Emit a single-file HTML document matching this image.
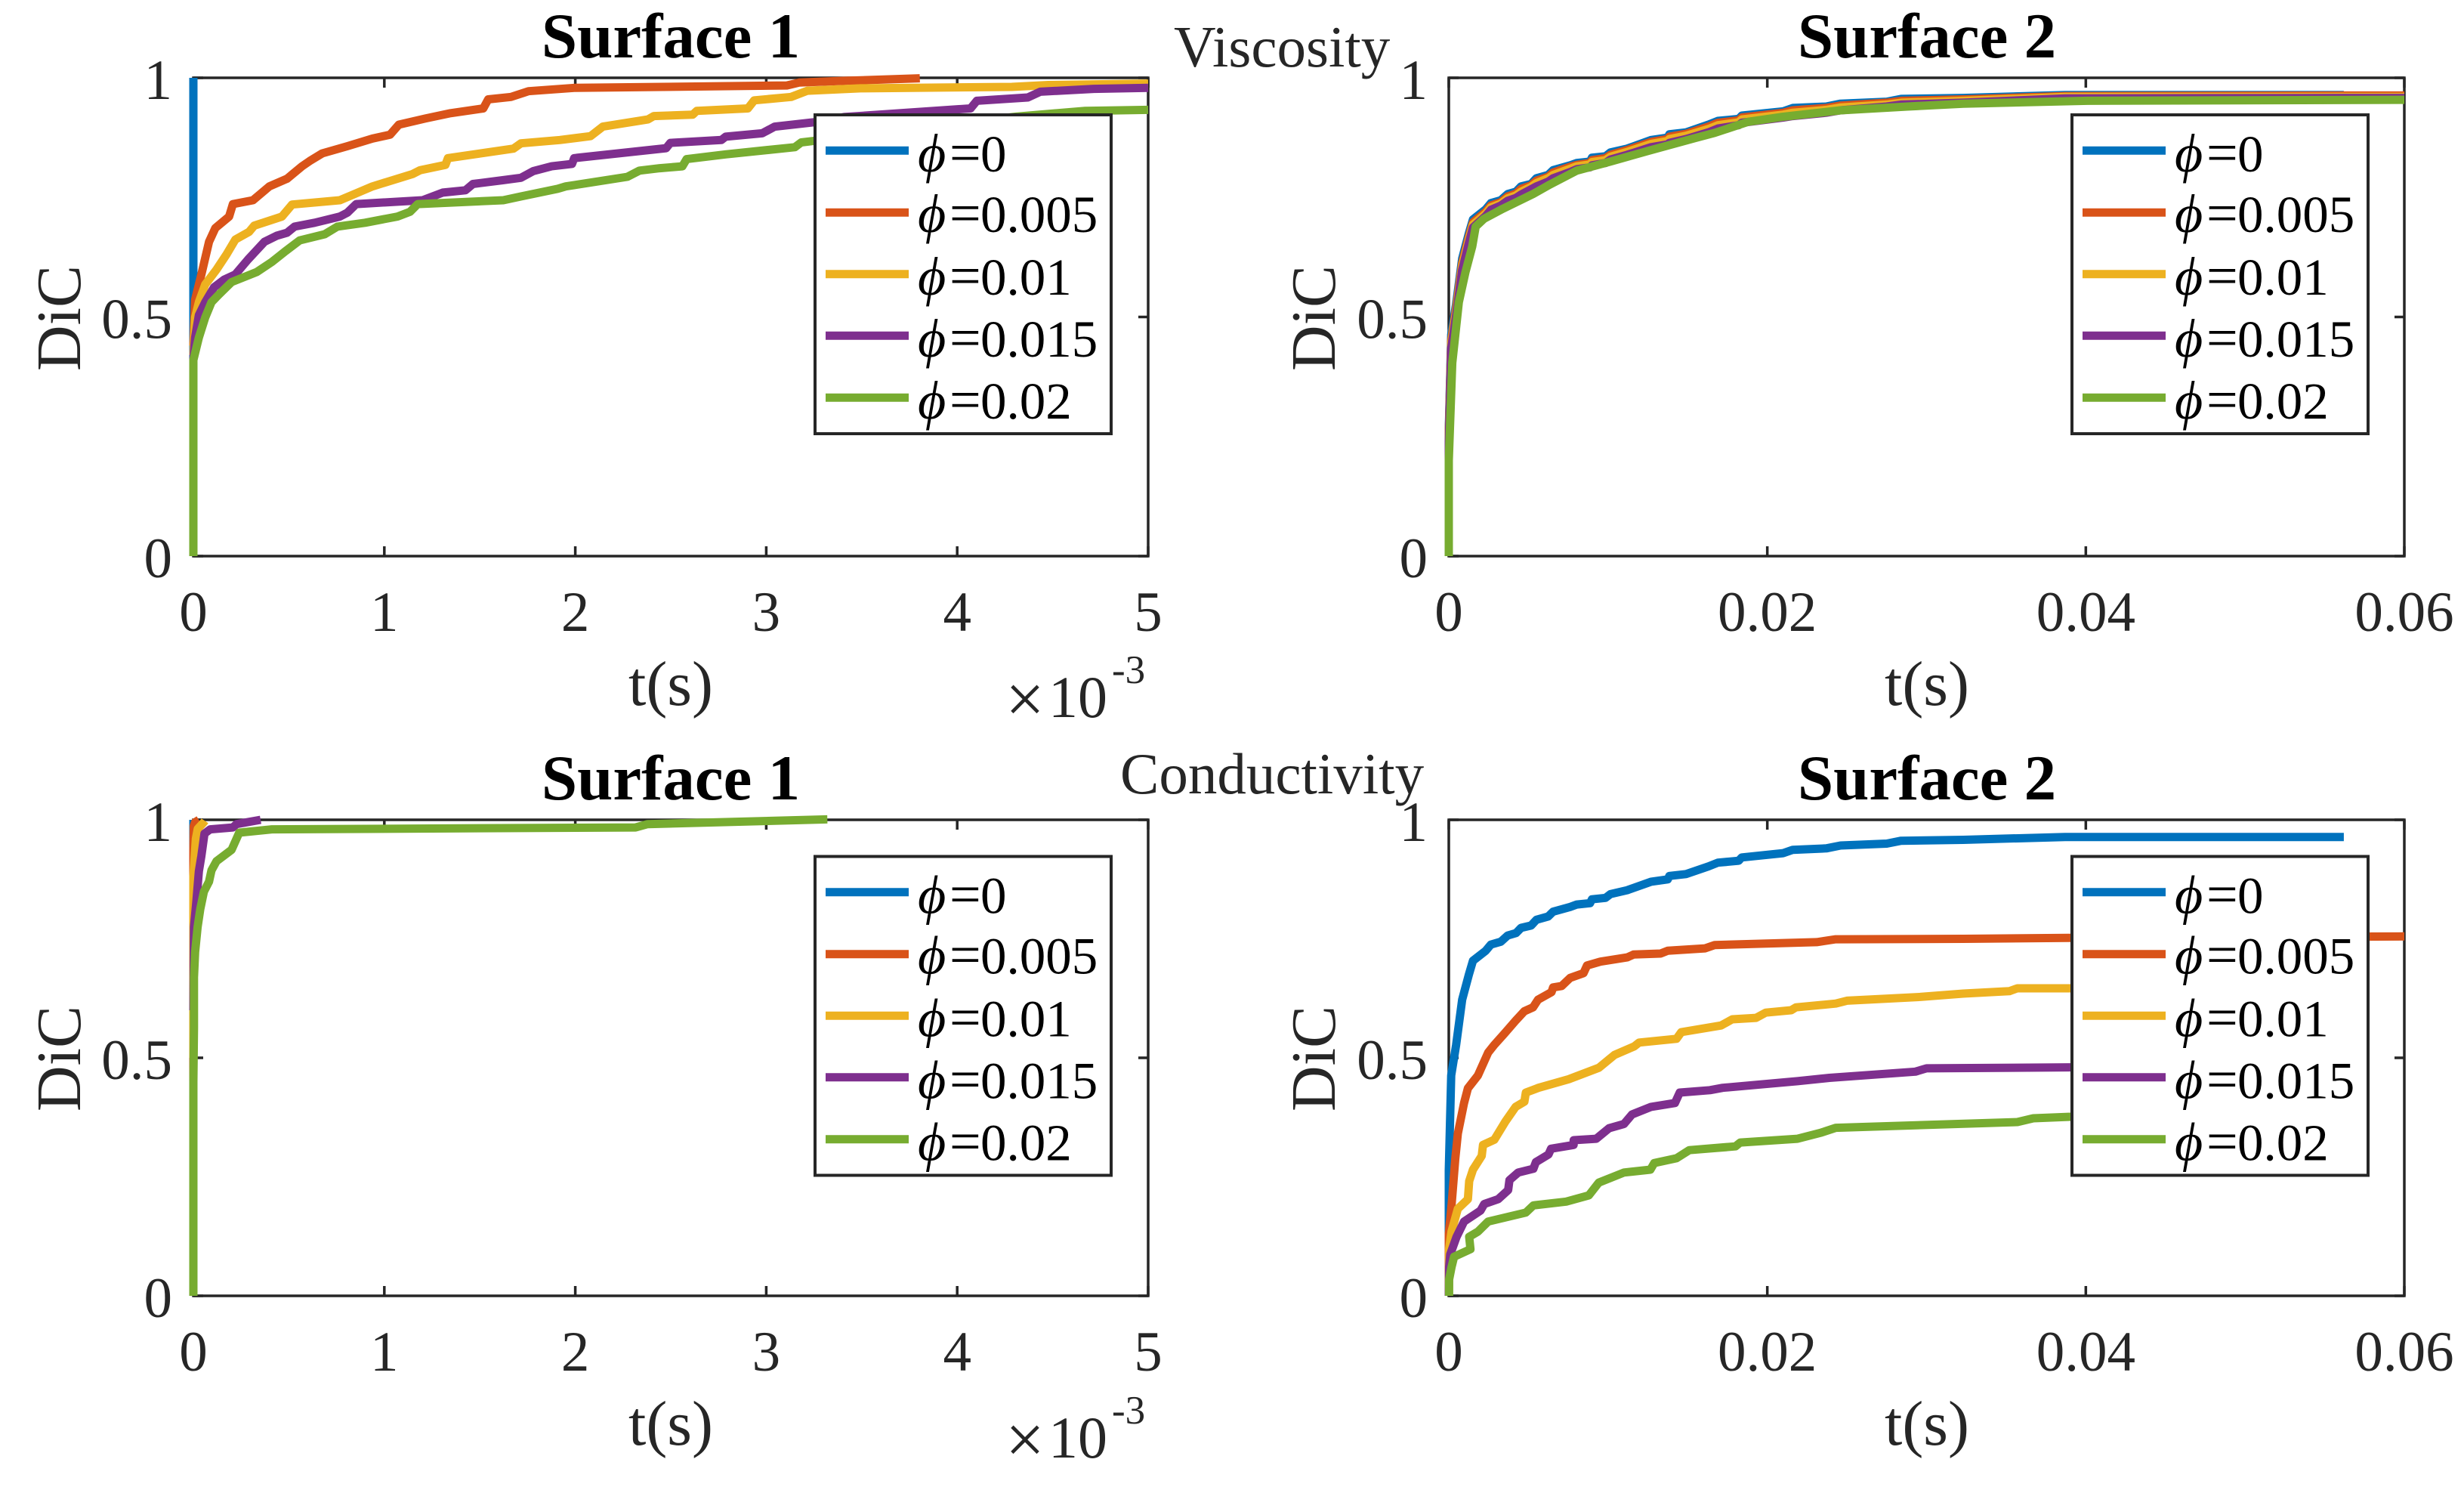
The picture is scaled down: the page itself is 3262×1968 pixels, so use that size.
<!DOCTYPE html>
<html lang="en">
<head>
<meta charset="utf-8">
<title>DiC versus time for Surface 1 and Surface 2</title>
<style>
html,body{margin:0;padding:0;background:#fff;}
svg{display:block;}
text{font-family:"Liberation Serif","DejaVu Serif",serif;}
.title{font-size:85px;font-weight:bold;fill:#000;text-anchor:middle;}
.axis-label{font-size:84px;fill:#262626;text-anchor:middle;}
.group-label{font-size:77px;fill:#262626;}
.tick-label{font-size:75px;fill:#262626;}
.legend-text{font-size:69px;fill:#000;}
.phi{font-style:italic;font-size:72px;}
.eq{font-size:74px;}
.times{font-size:92px;fill:#262626;}
.mult{font-size:78px;fill:#262626;}
.exp{font-size:53px;fill:#262626;}
</style>
</head>
<body>
<svg id="figure" xmlns="http://www.w3.org/2000/svg" width="3262" height="1968" viewBox="0 0 3262 1968">
  <rect x="0" y="0" width="3262" height="1968" fill="#ffffff"/>

  <text class="group-label" x="1554" y="88">Viscosity</text>
  <text class="group-label" x="1483" y="1050">Conductivity</text>

  <!-- Panel 1 -->
  <g id="panel1"></g>
  <text class="title" x="888" y="76">Surface 1</text>
  <text class="axis-label" x="888" y="933">t(s)</text>
  <text class="axis-label" transform="translate(106,421) rotate(-90)">DiC</text>
  <g>
    <text class="times" x="1331" y="956">×</text><text class="mult" x="1388" y="949">10</text><text class="exp" x="1472" y="904">-3</text>
  </g>
  <g transform="translate(0,0)">
    <rect x="1079" y="152" width="392" height="422" fill="#fff" stroke="#262626" stroke-width="4"/>
    <line x1="1093" x2="1203" y1="199.3" y2="199.3" stroke="#0072BD" stroke-width="11"/>
    <line x1="1093" x2="1203" y1="281.3" y2="281.3" stroke="#D95319" stroke-width="11"/>
    <line x1="1093" x2="1203" y1="362.7" y2="362.7" stroke="#EDB120" stroke-width="11"/>
    <line x1="1093" x2="1203" y1="444.3" y2="444.3" stroke="#7E2F8E" stroke-width="11"/>
    <line x1="1093" x2="1203" y1="526.3" y2="526.3" stroke="#77AC30" stroke-width="11"/>
    <text class="legend-text" y="227"><tspan class="phi" x="1215">ϕ</tspan><tspan class="eq" x="1257">=</tspan><tspan x="1298">0</tspan></text>
    <text class="legend-text" y="307"><tspan class="phi" x="1215">ϕ</tspan><tspan class="eq" x="1257">=</tspan><tspan x="1298">0.005</tspan></text>
    <text class="legend-text" y="390"><tspan class="phi" x="1215">ϕ</tspan><tspan class="eq" x="1257">=</tspan><tspan x="1298">0.01</tspan></text>
    <text class="legend-text" y="472"><tspan class="phi" x="1215">ϕ</tspan><tspan class="eq" x="1257">=</tspan><tspan x="1298">0.015</tspan></text>
    <text class="legend-text" y="554"><tspan class="phi" x="1215">ϕ</tspan><tspan class="eq" x="1257">=</tspan><tspan x="1298">0.02</tspan></text>
  </g>

  <!-- Panel 2 -->
  <g id="panel2"></g>
  <text class="title" x="2551" y="76">Surface 2</text>
  <text class="axis-label" x="2551" y="933">t(s)</text>
  <text class="axis-label" transform="translate(1767,421) rotate(-90)">DiC</text>
  <g transform="translate(1664,0)">
    <rect x="1079" y="152" width="392" height="422" fill="#fff" stroke="#262626" stroke-width="4"/>
    <line x1="1093" x2="1203" y1="199.3" y2="199.3" stroke="#0072BD" stroke-width="11"/>
    <line x1="1093" x2="1203" y1="281.3" y2="281.3" stroke="#D95319" stroke-width="11"/>
    <line x1="1093" x2="1203" y1="362.7" y2="362.7" stroke="#EDB120" stroke-width="11"/>
    <line x1="1093" x2="1203" y1="444.3" y2="444.3" stroke="#7E2F8E" stroke-width="11"/>
    <line x1="1093" x2="1203" y1="526.3" y2="526.3" stroke="#77AC30" stroke-width="11"/>
    <text class="legend-text" y="227"><tspan class="phi" x="1215">ϕ</tspan><tspan class="eq" x="1257">=</tspan><tspan x="1298">0</tspan></text>
    <text class="legend-text" y="307"><tspan class="phi" x="1215">ϕ</tspan><tspan class="eq" x="1257">=</tspan><tspan x="1298">0.005</tspan></text>
    <text class="legend-text" y="390"><tspan class="phi" x="1215">ϕ</tspan><tspan class="eq" x="1257">=</tspan><tspan x="1298">0.01</tspan></text>
    <text class="legend-text" y="472"><tspan class="phi" x="1215">ϕ</tspan><tspan class="eq" x="1257">=</tspan><tspan x="1298">0.015</tspan></text>
    <text class="legend-text" y="554"><tspan class="phi" x="1215">ϕ</tspan><tspan class="eq" x="1257">=</tspan><tspan x="1298">0.02</tspan></text>
  </g>

  <!-- Panel 3 -->
  <g id="panel3"></g>
  <text class="title" x="888" y="1058">Surface 1</text>
  <text class="axis-label" x="888" y="1912">t(s)</text>
  <text class="axis-label" transform="translate(106,1401) rotate(-90)">DiC</text>
  <g>
    <text class="times" x="1331" y="1936">×</text><text class="mult" x="1388" y="1929">10</text><text class="exp" x="1472" y="1884">-3</text>
  </g>
  <g transform="translate(0,981.5)">
    <rect x="1079" y="152" width="392" height="422" fill="#fff" stroke="#262626" stroke-width="4"/>
    <line x1="1093" x2="1203" y1="199.3" y2="199.3" stroke="#0072BD" stroke-width="11"/>
    <line x1="1093" x2="1203" y1="281.3" y2="281.3" stroke="#D95319" stroke-width="11"/>
    <line x1="1093" x2="1203" y1="362.7" y2="362.7" stroke="#EDB120" stroke-width="11"/>
    <line x1="1093" x2="1203" y1="444.3" y2="444.3" stroke="#7E2F8E" stroke-width="11"/>
    <line x1="1093" x2="1203" y1="526.3" y2="526.3" stroke="#77AC30" stroke-width="11"/>
    <text class="legend-text" y="227"><tspan class="phi" x="1215">ϕ</tspan><tspan class="eq" x="1257">=</tspan><tspan x="1298">0</tspan></text>
    <text class="legend-text" y="307"><tspan class="phi" x="1215">ϕ</tspan><tspan class="eq" x="1257">=</tspan><tspan x="1298">0.005</tspan></text>
    <text class="legend-text" y="390"><tspan class="phi" x="1215">ϕ</tspan><tspan class="eq" x="1257">=</tspan><tspan x="1298">0.01</tspan></text>
    <text class="legend-text" y="472"><tspan class="phi" x="1215">ϕ</tspan><tspan class="eq" x="1257">=</tspan><tspan x="1298">0.015</tspan></text>
    <text class="legend-text" y="554"><tspan class="phi" x="1215">ϕ</tspan><tspan class="eq" x="1257">=</tspan><tspan x="1298">0.02</tspan></text>
  </g>

  <!-- Panel 4 -->
  <g id="panel4"></g>
  <text class="title" x="2551" y="1058">Surface 2</text>
  <text class="axis-label" x="2551" y="1912">t(s)</text>
  <text class="axis-label" transform="translate(1767,1401) rotate(-90)">DiC</text>
  <g transform="translate(1664,981.5)">
    <rect x="1079" y="152" width="392" height="422" fill="#fff" stroke="#262626" stroke-width="4"/>
    <line x1="1093" x2="1203" y1="199.3" y2="199.3" stroke="#0072BD" stroke-width="11"/>
    <line x1="1093" x2="1203" y1="281.3" y2="281.3" stroke="#D95319" stroke-width="11"/>
    <line x1="1093" x2="1203" y1="362.7" y2="362.7" stroke="#EDB120" stroke-width="11"/>
    <line x1="1093" x2="1203" y1="444.3" y2="444.3" stroke="#7E2F8E" stroke-width="11"/>
    <line x1="1093" x2="1203" y1="526.3" y2="526.3" stroke="#77AC30" stroke-width="11"/>
    <text class="legend-text" y="227"><tspan class="phi" x="1215">ϕ</tspan><tspan class="eq" x="1257">=</tspan><tspan x="1298">0</tspan></text>
    <text class="legend-text" y="307"><tspan class="phi" x="1215">ϕ</tspan><tspan class="eq" x="1257">=</tspan><tspan x="1298">0.005</tspan></text>
    <text class="legend-text" y="390"><tspan class="phi" x="1215">ϕ</tspan><tspan class="eq" x="1257">=</tspan><tspan x="1298">0.01</tspan></text>
    <text class="legend-text" y="472"><tspan class="phi" x="1215">ϕ</tspan><tspan class="eq" x="1257">=</tspan><tspan x="1298">0.015</tspan></text>
    <text class="legend-text" y="554"><tspan class="phi" x="1215">ϕ</tspan><tspan class="eq" x="1257">=</tspan><tspan x="1298">0.02</tspan></text>
  </g>
</svg>

<script>
// Time values are in milliseconds, DiC is a fraction.
const seriesNames = ['phi-0','phi-0.005','phi-0.01','phi-0.015','phi-0.02'];
const seriesColors = ['#0072BD','#D95319','#EDB120','#7E2F8E','#77AC30'];

const yTicks = [0,0.5,1];
const yTickLabels = ['0','0.5','1'];
const xTicksShort = [0,1,2,3,4,5];
const xTickLabelsShort = ['0','1','2','3','4','5'];
const xTicksLong = [0,20,40,60];
const xTickLabelsLong = ['0','0.02','0.04','0.06'];

// Panel 1: viscosity, surface 1
const v1T0 = [0,0];
const v1D0 = [0,1];
const v1T1 = [0,0.009,0.042,0.082,0.115,0.187,0.207,0.312,0.398,0.49,0.569,0.609,0.675,0.806,0.938,1.03,1.076,1.215,1.347,1.518,1.544,1.663,1.755,1.994,3.108,3.172,3.43,3.804];
const v1D1 = [0.44,0.536,0.589,0.657,0.686,0.71,0.736,0.744,0.773,0.789,0.815,0.826,0.842,0.857,0.873,0.881,0.902,0.915,0.926,0.936,0.955,0.96,0.972,0.979,0.984,0.99,0.994,0.999];
const v1T2 = [0,0.009,0.029,0.062,0.121,0.174,0.22,0.292,0.319,0.464,0.517,0.767,0.938,1.149,1.188,1.32,1.333,1.676,1.715,1.919,2.08,2.144,2.38,2.411,2.615,2.636,2.904,2.937,3.13,3.215,3.494,4.286,4.478,5];
const v1D2 = [0.42,0.499,0.531,0.568,0.599,0.631,0.662,0.678,0.691,0.71,0.735,0.744,0.773,0.799,0.807,0.818,0.832,0.852,0.863,0.87,0.878,0.898,0.913,0.92,0.923,0.931,0.936,0.953,0.96,0.973,0.978,0.981,0.985,0.988];
const v1T3 = [0,0.009,0.029,0.062,0.108,0.161,0.22,0.286,0.372,0.437,0.49,0.53,0.635,0.767,0.806,0.853,1.2,1.306,1.425,1.464,1.62,1.715,1.78,1.876,1.983,1.994,2.476,2.498,2.765,2.787,2.979,3.044,3.247,3.407,4.07,4.103,4.37,4.435,4.715,5];
const v1D3 = [0.41,0.457,0.504,0.531,0.562,0.578,0.589,0.62,0.657,0.67,0.676,0.689,0.697,0.71,0.718,0.736,0.744,0.76,0.765,0.778,0.786,0.791,0.805,0.815,0.82,0.832,0.853,0.864,0.87,0.877,0.884,0.898,0.907,0.918,0.936,0.952,0.959,0.971,0.977,0.979];
const v1T4 = [0,0,0.029,0.062,0.095,0.134,0.2,0.332,0.411,0.477,0.556,0.688,0.754,0.899,1.069,1.135,1.175,1.623,1.715,1.908,1.95,2.273,2.336,2.443,2.561,2.583,2.787,3.15,3.183,3.247,3.6,4,4.31,4.67,5];
const v1D4 = [0,0.41,0.457,0.499,0.531,0.547,0.573,0.594,0.615,0.636,0.66,0.673,0.689,0.697,0.71,0.72,0.736,0.744,0.752,0.768,0.773,0.793,0.806,0.811,0.815,0.83,0.84,0.855,0.865,0.868,0.885,0.905,0.919,0.931,0.933];

// Panel 2: viscosity, surface 2
const v2T0 = [0,0,0.15,0.46,0.84,1.26,1.52,2.32,2.64,3.27,3.7,4.22,4.54,5.17,5.5,6.24,6.55,7.62,8.04,8.87,8.99,9.84,10.15,11.2,12.7,13.75,13.85,14.9,16.3,16.9,18.2,18.4,21,21.6,23.7,24.6,27.5,28.4,32.3,38.7,56.2];
const v2D0 = [0,0.263,0.463,0.527,0.622,0.675,0.704,0.725,0.738,0.744,0.757,0.762,0.773,0.778,0.79,0.797,0.807,0.817,0.822,0.825,0.833,0.836,0.844,0.852,0.87,0.875,0.882,0.886,0.902,0.91,0.914,0.921,0.93,0.937,0.94,0.946,0.95,0.956,0.958,0.964,0.964];
const v2T1 = [0,0,0.15,0.46,0.84,1.26,1.52,2.32,2.64,3.27,3.7,4.22,4.54,5.17,5.5,6.24,6.55,7.62,8.04,8.87,8.99,9.84,10.15,11.2,12.7,13.75,13.85,14.9,16.3,16.9,18.2,18.4,21,21.6,23.7,24.6,27.5,28.4,32.3,38.7,56.2,60];
const v2D1 = [0,0.255,0.452,0.518,0.613,0.668,0.698,0.72,0.733,0.74,0.752,0.758,0.768,0.775,0.785,0.793,0.802,0.814,0.818,0.822,0.828,0.832,0.839,0.849,0.866,0.872,0.877,0.883,0.898,0.906,0.911,0.917,0.927,0.932,0.937,0.942,0.948,0.952,0.955,0.962,0.963,0.963];
const v2T2 = [0,0,0.15,0.46,0.84,1.26,1.52,2.32,2.64,3.27,3.7,4.22,4.54,5.17,5.5,6.24,6.55,7.62,8.04,8.87,8.99,9.84,10.15,11.2,12.7,13.75,13.85,14.9,16.3,16.9,18.2,18.4,21,21.6,23.7,24.6,27.5,28.4,32.3,38.7,56.2,60];
const v2D2 = [0,0.25,0.445,0.511,0.606,0.662,0.693,0.716,0.729,0.737,0.748,0.754,0.762,0.772,0.78,0.79,0.797,0.81,0.815,0.819,0.824,0.828,0.835,0.845,0.862,0.868,0.872,0.879,0.893,0.901,0.907,0.913,0.923,0.927,0.933,0.938,0.944,0.948,0.952,0.96,0.96,0.96];
const v2T3 = [0,0,0.15,0.46,0.84,1.26,1.52,2.32,2.64,3.27,3.7,4.22,4.54,5.17,5.5,6.24,6.55,7.62,8.04,8.87,8.99,9.84,10.15,11.2,12.7,13.75,13.85,14.9,16.3,16.9,18.2,18.4,21,21.6,23.7,24.6,27.5,28.4,32.3,38.7,56.2,60];
const v2D3 = [0,0.24,0.435,0.503,0.598,0.655,0.687,0.711,0.724,0.733,0.743,0.749,0.756,0.767,0.773,0.783,0.79,0.803,0.809,0.813,0.817,0.822,0.829,0.839,0.855,0.861,0.864,0.872,0.886,0.894,0.901,0.906,0.917,0.92,0.927,0.932,0.94,0.944,0.948,0.957,0.958,0.958];
const v2T4 = [0,0,0.22,0.63,1.05,1.47,1.69,2.2,3.38,5.29,6.35,8.04,10.15,12.5,15.45,16.7,18.8,20.85,24.6,28.8,32.3,40.1,60];
const v2D4 = [0,0.2,0.404,0.531,0.594,0.647,0.689,0.705,0.726,0.757,0.777,0.806,0.825,0.847,0.874,0.885,0.908,0.918,0.932,0.94,0.946,0.952,0.954];

// Panel 3: conductivity, surface 1
const c1T0 = [0,0];
const c1D0 = [0,1];
const c1T1 = [0,0,0.002,0.009,0.029];
const c1D1 = [0.4,0.934,0.987,0.995,1];
const c1T2 = [0,0,0.013,0.023,0.055,0.06];
const c1D2 = [0.5,0.881,0.96,0.981,0.995,0.998];
const c1T3 = [0,0.003,0.016,0.029,0.042,0.058,0.088,0.207,0.226,0.352];
const c1D3 = [0.6,0.775,0.829,0.892,0.924,0.971,0.98,0.984,0.991,1];
const c1T4 = [0,0,0.003,0.003,0.009,0.022,0.036,0.055,0.082,0.095,0.121,0.2,0.24,0.411,2.316,2.378,3.32];
const c1D4 = [0,0.45,0.563,0.669,0.722,0.775,0.812,0.849,0.87,0.894,0.913,0.937,0.973,0.98,0.984,0.991,1.001];

// Panel 4: conductivity, surface 2
const c2T0 = [0,0,0.15,0.46,0.84,1.26,1.52,2.32,2.64,3.27,3.7,4.22,4.54,5.17,5.5,6.24,6.55,7.62,8.04,8.87,8.99,9.84,10.15,11.2,12.7,13.75,13.85,14.9,16.3,16.9,18.2,18.4,21,21.6,23.7,24.6,27.5,28.4,32.3,38.7,56.2];
const c2D0 = [0,0.263,0.463,0.527,0.622,0.675,0.704,0.725,0.738,0.744,0.757,0.762,0.773,0.778,0.79,0.797,0.807,0.817,0.822,0.825,0.833,0.836,0.844,0.852,0.87,0.875,0.882,0.886,0.902,0.91,0.914,0.921,0.93,0.937,0.94,0.946,0.95,0.956,0.958,0.964,0.964];
const c2T1 = [0,0,0.18,0.41,0.57,0.96,1.2,1.83,2.47,2.85,3.49,4.22,4.75,5.29,5.6,6.45,6.55,7.09,7.62,8.46,8.68,9.52,11.2,11.6,13.3,13.75,16.1,16.7,23.1,24.3,32.3,38.9,60];
const c2D1 = [0,0.13,0.193,0.288,0.341,0.405,0.436,0.463,0.511,0.527,0.551,0.579,0.598,0.606,0.622,0.638,0.648,0.651,0.668,0.678,0.694,0.702,0.711,0.717,0.719,0.725,0.73,0.737,0.743,0.749,0.75,0.752,0.755];
const c2T2 = [0,0.02,0.17,0.57,1.2,1.28,1.52,2.07,2.15,2.86,3.57,4.2,4.75,4.84,5.63,7.53,9.42,10.4,11.64,11.95,14.3,14.6,17.1,17.8,19.3,19.9,21.5,21.8,24.3,25,29.6,32.3,35.2,35.7,38.9,44];
const c2D2 = [0,0.098,0.135,0.183,0.203,0.241,0.265,0.294,0.317,0.328,0.367,0.397,0.408,0.427,0.437,0.455,0.479,0.506,0.524,0.532,0.54,0.554,0.568,0.581,0.584,0.595,0.6,0.606,0.614,0.62,0.628,0.635,0.64,0.646,0.646,0.648];
const c2T3 = [0,0.02,0.09,0.49,0.96,1.99,2.23,3.1,3.73,3.81,4.36,5.31,5.47,6.26,6.42,7.84,7.84,9.26,10.06,11,11.5,12.7,14.2,14.5,16.4,17.2,21.9,23.9,29.3,30,38.9,44];
const c2D3 = [0,0.06,0.087,0.124,0.156,0.179,0.193,0.203,0.222,0.243,0.259,0.267,0.281,0.297,0.309,0.317,0.327,0.33,0.352,0.361,0.381,0.397,0.405,0.427,0.432,0.437,0.451,0.458,0.471,0.478,0.48,0.482];
const c2T4 = [0.02,0.02,0.17,0.33,1.36,1.28,1.83,2.47,4.84,5.31,7.37,8.79,9.42,11,12.66,12.9,14.3,15.1,18,18.3,21.9,23.4,24.3,35.7,36.7,38.9,44];
const c2D4 = [0,0.034,0.06,0.082,0.098,0.124,0.135,0.156,0.175,0.19,0.198,0.211,0.238,0.259,0.265,0.279,0.289,0.306,0.314,0.322,0.33,0.343,0.353,0.365,0.373,0.376,0.38];

const SVG_NS = 'http://www.w3.org/2000/svg';

function drawPanel(hostId, box, xMax, xTicks, xLabels, times, values) {
  const host = document.getElementById(hostId);
  const xScale = function (v) { return box.left + (v / xMax) * (box.right - box.left); };
  const yScale = function (v) { return box.bottom - v * (box.bottom - box.top); };

  const frame = document.createElementNS(SVG_NS, 'rect');
  
  
  frame.setAttribute('x', box.left);
  frame.setAttribute('y', box.top);
  frame.setAttribute('width', box.right - box.left);
  frame.setAttribute('height', box.bottom - box.top);
  frame.setAttribute('fill', 'none');
  frame.setAttribute('stroke', '#262626');
  frame.setAttribute('stroke-width', '3.5');
  host.appendChild(frame);

  xTicks.forEach(function (t, i) {
    const px = xScale(t);
    [[box.bottom, box.bottom - 13], [box.top, box.top + 13]].forEach(function (ends) {
      const tick = document.createElementNS(SVG_NS, 'line');
      
      
      tick.setAttribute('x1', px);
      tick.setAttribute('x2', px);
      tick.setAttribute('y1', ends[0]);
      tick.setAttribute('y2', ends[1]);
      tick.setAttribute('stroke', '#262626');
      tick.setAttribute('stroke-width', '3.5');
      host.appendChild(tick);
    });
    const label = document.createElementNS(SVG_NS, 'text');
    
    
    label.setAttribute('class', 'tick-label');
    label.setAttribute('x', px);
    label.setAttribute('y', box.bottom + 99);
    label.setAttribute('text-anchor', 'middle');
    label.textContent = xLabels[i];
    host.appendChild(label);
  });

  yTicks.forEach(function (t, i) {
    const py = yScale(t);
    [[box.left, box.left + 13], [box.right, box.right - 13]].forEach(function (ends) {
      const tick = document.createElementNS(SVG_NS, 'line');
      
      
      tick.setAttribute('x1', ends[0]);
      tick.setAttribute('x2', ends[1]);
      tick.setAttribute('y1', py);
      tick.setAttribute('y2', py);
      tick.setAttribute('stroke', '#262626');
      tick.setAttribute('stroke-width', '3.5');
      host.appendChild(tick);
    });
    const label = document.createElementNS(SVG_NS, 'text');
    
    
    label.setAttribute('class', 'tick-label');
    label.setAttribute('x', box.left - 28);
    label.setAttribute('y', py + 28);
    label.setAttribute('text-anchor', 'end');
    label.textContent = yTickLabels[i];
    host.appendChild(label);
  });

  times.forEach(function (ts, s) {
    const pts = ts.map(function (t, k) { return xScale(t).toFixed(1) + ',' + yScale(values[s][k]).toFixed(1); }).join(' ');
    const line = document.createElementNS(SVG_NS, 'polyline');
    
    
    line.setAttribute('points', pts);
    line.setAttribute('fill', 'none');
    line.setAttribute('stroke', seriesColors[s]);
    line.setAttribute('stroke-width', '11');
    line.setAttribute('stroke-linejoin', 'round');
    line.setAttribute('stroke-linecap', 'butt');
    host.appendChild(line);
  });
}

drawPanel('panel1', {left:256,right:1520,top:103,bottom:736}, 5, xTicksShort, xTickLabelsShort,
  [v1T0,v1T1,v1T2,v1T3,v1T4], [v1D0,v1D1,v1D2,v1D3,v1D4]);
drawPanel('panel2', {left:1918,right:3183,top:103,bottom:736}, 60, xTicksLong, xTickLabelsLong,
  [v2T0,v2T1,v2T2,v2T3,v2T4], [v2D0,v2D1,v2D2,v2D3,v2D4]);
drawPanel('panel3', {left:256,right:1520,top:1085,bottom:1715}, 5, xTicksShort, xTickLabelsShort,
  [c1T0,c1T1,c1T2,c1T3,c1T4], [c1D0,c1D1,c1D2,c1D3,c1D4]);
drawPanel('panel4', {left:1918,right:3183,top:1085,bottom:1715}, 60, xTicksLong, xTickLabelsLong,
  [c2T0,c2T1,c2T2,c2T3,c2T4], [c2D0,c2D1,c2D2,c2D3,c2D4]);
</script>
</body>
</html>
